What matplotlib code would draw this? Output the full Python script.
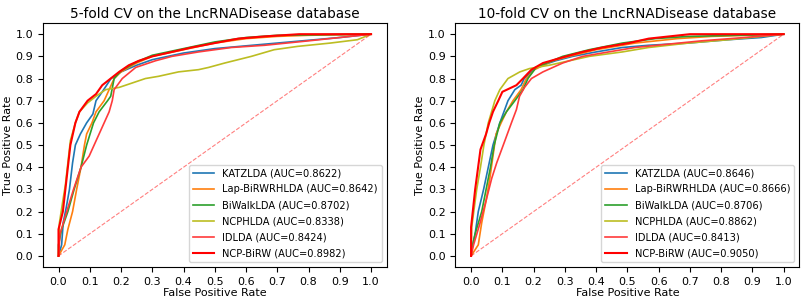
#! /usr/bin/env python3
"""ROC curves, 5-fold and 10-fold CV on LncRNADisease"""

import numpy as np
from matplotlib import pyplot as plt

methods = ['KATZLDA', 'Lap-BiRWRHLDA', 'BiWalkLDA', 'NCPHLDA', 'IDLDA', 'NCP-BiRW']
auc_5 = ['0.8622', '0.8642', '0.8702', '0.8338', '0.8424', '0.8982']
auc_10 = ['0.8646', '0.8666', '0.8706', '0.8862', '0.8413', '0.9050']

# 5-fold curves (fpr, tpr)
katz_5_fpr = [0, 0.01, 0.015, 0.025, 0.035, 0.045, 0.054, 0.07, 0.09, 0.11, 0.12, 0.14, 0.168, 0.2, 0.25, 0.3, 0.4, 0.5, 0.7, 0.9, 1.0]
katz_5_tpr = [0, 0.05, 0.15, 0.22, 0.3, 0.42, 0.5, 0.55, 0.6, 0.64, 0.7, 0.74, 0.8, 0.83, 0.86, 0.885, 0.915, 0.935, 0.96, 0.985, 1.0]
lap_5_fpr = [0, 0.02, 0.03, 0.045, 0.058, 0.072, 0.083, 0.09, 0.107, 0.12, 0.146, 0.162, 0.178, 0.2, 0.25, 0.3, 0.4, 0.5, 0.6, 0.7, 0.8, 1.0]
lap_5_tpr = [0, 0.05, 0.12, 0.2, 0.3, 0.4, 0.5, 0.55, 0.6, 0.65, 0.7, 0.75, 0.8, 0.83, 0.87, 0.9, 0.93, 0.96, 0.98, 0.99, 0.995, 1.0]
biwalk_5_fpr = [0, 0, 0.01, 0.03, 0.05, 0.072, 0.09, 0.112, 0.13, 0.157, 0.167, 0.178, 0.2, 0.25, 0.3, 0.4, 0.5, 0.6, 0.7, 1.0]
biwalk_5_tpr = [0, 0.05, 0.12, 0.2, 0.3, 0.4, 0.5, 0.6, 0.65, 0.7, 0.72, 0.8, 0.835, 0.875, 0.905, 0.935, 0.965, 0.985, 0.995, 1.0]
ncph_5_fpr = [0, 0.003, 0.014, 0.022, 0.03, 0.038, 0.054, 0.067, 0.093, 0.12, 0.151, 0.194, 0.236, 0.278, 0.32, 0.384, 0.448, 0.48, 0.532, 0.617, 0.69, 0.765, 0.87, 0.956, 1.0]
ncph_5_tpr = [0, 0.15, 0.25, 0.32, 0.42, 0.52, 0.6, 0.65, 0.69, 0.72, 0.75, 0.76, 0.78, 0.8, 0.81, 0.83, 0.84, 0.85, 0.87, 0.9, 0.93, 0.945, 0.96, 0.975, 1.0]
idlda_5_fpr = [0, 0.005, 0.02, 0.035, 0.048, 0.072, 0.098, 0.114, 0.13, 0.146, 0.162, 0.172, 0.178, 0.204, 0.247, 0.31, 0.363, 0.448, 0.553, 0.66, 0.8, 0.9, 1.0]
idlda_5_tpr = [0, 0.1, 0.17, 0.24, 0.3, 0.4, 0.45, 0.5, 0.55, 0.6, 0.65, 0.7, 0.75, 0.8, 0.85, 0.88, 0.9, 0.92, 0.94, 0.95, 0.97, 0.985, 1.0]
birw_5_fpr = [0, 0, 0.014, 0.022, 0.03, 0.038, 0.054, 0.067, 0.093, 0.12, 0.14, 0.167, 0.194, 0.225, 0.257, 0.3, 0.363, 0.426, 0.5, 0.575, 0.66, 0.77, 1.0]
birw_5_tpr = [0, 0.12, 0.2, 0.3, 0.4, 0.5, 0.6, 0.65, 0.7, 0.73, 0.77, 0.8, 0.83, 0.86, 0.88, 0.9, 0.92, 0.94, 0.96, 0.98, 0.99, 1.0, 1.0]

# 10-fold curves
katz_10_fpr = [0, 0.005, 0.013, 0.023, 0.04, 0.055, 0.07, 0.092, 0.118, 0.14, 0.16, 0.17, 0.208, 0.27, 0.325, 0.4, 0.484, 0.568, 0.695, 0.822, 0.928, 1.0]
katz_10_tpr = [0, 0.05, 0.1, 0.2, 0.3, 0.4, 0.5, 0.6, 0.7, 0.75, 0.77, 0.8, 0.85, 0.88, 0.9, 0.92, 0.94, 0.95, 0.96, 0.975, 0.985, 1.0]
lap_10_fpr = [0, 0.023, 0.034, 0.048, 0.06, 0.07, 0.08, 0.096, 0.113, 0.134, 0.16, 0.177, 0.203, 0.26, 0.314, 0.4, 0.525, 0.66, 0.77, 1.0]
lap_10_tpr = [0, 0.05, 0.15, 0.25, 0.35, 0.45, 0.55, 0.6, 0.65, 0.7, 0.75, 0.8, 0.84, 0.88, 0.9, 0.93, 0.96, 0.98, 0.99, 1.0]
biwalk_10_fpr = [0, 0.002, 0.013, 0.034, 0.048, 0.062, 0.074, 0.092, 0.113, 0.14, 0.166, 0.182, 0.208, 0.293, 0.378, 0.484, 0.589, 0.695, 1.0]
biwalk_10_tpr = [0, 0.03, 0.1, 0.2, 0.3, 0.4, 0.5, 0.6, 0.65, 0.7, 0.75, 0.8, 0.85, 0.9, 0.93, 0.96, 0.98, 0.99, 1.0]
ncph_10_fpr = [0, 0.002, 0.018, 0.03, 0.041, 0.055, 0.076, 0.092, 0.118, 0.156, 0.187, 0.25, 0.314, 0.378, 0.484, 0.568, 0.695, 0.822, 1.0]
ncph_10_tpr = [0, 0.13, 0.3, 0.4, 0.5, 0.6, 0.7, 0.75, 0.8, 0.83, 0.845, 0.86, 0.88, 0.9, 0.92, 0.94, 0.96, 0.975, 1.0]
idlda_10_fpr = [0, 0.008, 0.029, 0.048, 0.066, 0.082, 0.103, 0.129, 0.145, 0.155, 0.171, 0.193, 0.23, 0.293, 0.357, 0.44, 0.525, 0.63, 0.737, 0.875, 1.0]
idlda_10_tpr = [0, 0.05, 0.15, 0.25, 0.35, 0.42, 0.5, 0.6, 0.66, 0.72, 0.76, 0.8, 0.83, 0.87, 0.9, 0.92, 0.94, 0.955, 0.97, 0.985, 1.0]
birw_10_fpr = [0, 0, 0.013, 0.03, 0.048, 0.058, 0.07, 0.087, 0.1, 0.145, 0.166, 0.193, 0.23, 0.304, 0.357, 0.42, 0.505, 0.568, 0.7, 1.0]
birw_10_tpr = [0, 0.13, 0.3, 0.48, 0.55, 0.6, 0.65, 0.7, 0.74, 0.77, 0.8, 0.84, 0.87, 0.9, 0.92, 0.94, 0.96, 0.98, 1.0, 1.0]

colors = ['#1f77b4', '#ff7f0e', '#2ca02c', '#bcbd22', '#ff3b3b', '#ff0000']
widths = [1.2, 1.2, 1.2, 1.2, 1.2, 1.5]

curves_5 = [(katz_5_fpr, katz_5_tpr), (lap_5_fpr, lap_5_tpr), (biwalk_5_fpr, biwalk_5_tpr),
            (ncph_5_fpr, ncph_5_tpr), (idlda_5_fpr, idlda_5_tpr), (birw_5_fpr, birw_5_tpr)]
curves_10 = [(katz_10_fpr, katz_10_tpr), (lap_10_fpr, lap_10_tpr), (biwalk_10_fpr, biwalk_10_tpr),
             (ncph_10_fpr, ncph_10_tpr), (idlda_10_fpr, idlda_10_tpr), (birw_10_fpr, birw_10_tpr)]

fig, axes = plt.subplots(1, 2, figsize=(8.09, 3.0), dpi=100)
plt.subplots_adjust(left=0.053, right=0.988, top=0.923, bottom=0.11, wspace=0.2)

for ax, curves, aucs, title in zip(axes, [curves_5, curves_10], [auc_5, auc_10],
                                   ['5-fold CV on the LncRNADisease database',
                                    '10-fold CV on the LncRNADisease database']):
    for (fpr, tpr), name, auc, col, lw in zip(curves, methods, aucs, colors, widths):
        ax.plot(fpr, tpr, color=col, lw=lw, label=f'{name} (AUC={auc})')
    ax.plot([0, 1], [0, 1], color='red', ls='--', lw=0.8, alpha=0.5)
    ax.set_xticks(np.arange(0, 1.01, 0.1))
    ax.set_yticks(np.arange(0, 1.01, 0.1))
    ax.tick_params(labelsize=8)
    ax.set_xlabel('False Positive Rate', fontsize=8, labelpad=1)
    ax.set_ylabel('True Positive Rate', fontsize=8, labelpad=2)
    ax.set_title(title, fontsize=9.8, pad=4)
    ax.legend(loc='lower right', fontsize=7.1, handlelength=2.2, labelspacing=0.6)

plt.savefig('out.png')
